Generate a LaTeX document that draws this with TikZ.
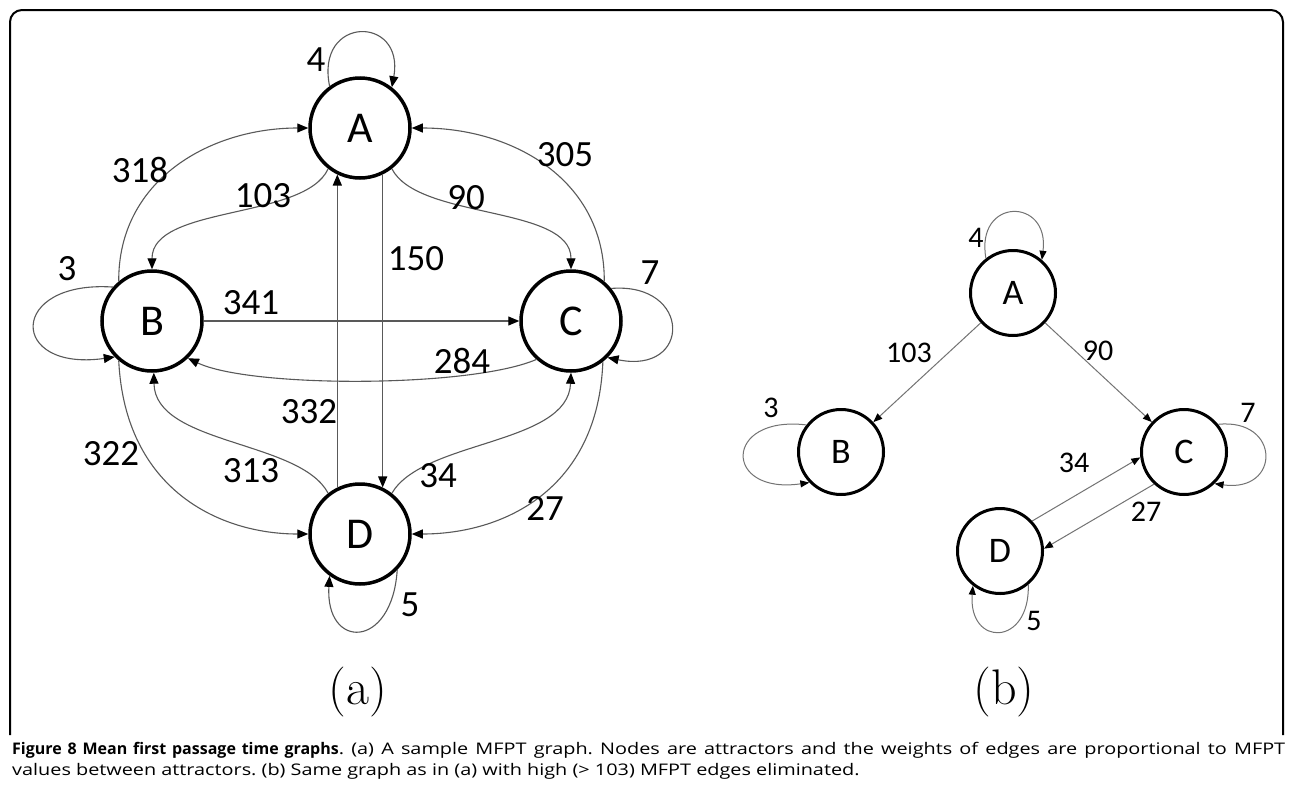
\documentclass[tikz,border=0pt]{standalone}
\usepackage{fontspec}
\newfontfamily\labfont{Carlito}
\newfontfamily\capfont[FakeStretch=1.24]{Open Sans}
\newfontfamily\capboldfont{Open Sans}
\usetikzlibrary{arrows.meta}
\begin{document}
\begin{tikzpicture}[x=1pt,y=-1pt,
  stateA/.style={circle,draw,line width=3.5pt,minimum size=100pt,inner sep=0pt,font=\labfont\fontsize{44}{44}\selectfont},
  stateB/.style={circle,draw,line width=3pt,minimum size=85pt,inner sep=0pt,font=\labfont\fontsize{36}{36}\selectfont},
  edgeA/.style={draw=black!65,line width=1.1pt,-{Triangle[length=11pt,width=9pt,color=black]}},
  edgeB/.style={draw=black!55,line width=1pt,-{Triangle[length=9pt,width=7pt,color=black]}},
  lblA/.style={font=\labfont\fontsize{37}{37}\selectfont,inner sep=0pt},
  lblB/.style={font=\labfont\fontsize{30}{30}\selectfont,inner sep=0pt},
  sub/.style={font=\fontsize{50}{60}\selectfont,inner sep=0pt},
  capline/.style={font=\capfont\fontsize{16}{20}\selectfont\frenchspacing,inner sep=0pt,anchor=base west},
]
\useasboundingbox (0,0) rectangle (1292,798);
\fill[white] (0,0) rectangle (1292,798);
% frame
\draw[line width=2pt,rounded corners=12pt] (10,735) -- (10,10) -- (1283,10) -- (1283,735);

% ---------- graph (a) ----------
\node[stateA] (A) at (360,128) {A};
\node[stateA] (B) at (152,321) {B};
\node[stateA] (C) at (571,321) {C};
\node[stateA] (D) at (360,534) {D};

\draw[edgeA] (A.126) .. controls (315,15) and (405,15) .. (A.52);
\draw[edgeA] (B.130) .. controls (118,180) and (210,128) .. (A.180);
\draw[edgeA] (C.50) .. controls (605,180) and (513,128) .. (A.0);
\draw[edgeA] (A.-128) .. controls (305,220) and (152,205) .. (B.90);
\draw[edgeA] (A.-52) .. controls (418,220) and (571,205) .. (C.90);
\draw[edgeA] (A.-64) -- (D.64);
\draw[edgeA] (D.116) -- (A.-116);
\draw[edgeA] (B.0) -- (C.180);
\draw[edgeA] (C.-132) .. controls (470,388) and (250,388) .. (B.-46);
\draw[edgeA] (B.139) .. controls (8,280) and (8,372) .. (B.-136);
\draw[edgeA] (C.39) .. controls (692,282) and (692,375) .. (C.-45);
\draw[edgeA] (B.-130) .. controls (125,490) and (220,534) .. (D.180);
\draw[edgeA] (C.-52) .. controls (598,490) and (503,534) .. (D.0);
\draw[edgeA] (D.128) .. controls (300,440) and (155,445) .. (B.-88);
\draw[edgeA] (D.52) .. controls (423,440) and (568,445) .. (C.-90);
\draw[edgeA] (D.-44) .. controls (392,650) and (325,650) .. (D.-126);

\node[lblA] (a4) at (316,60) {4};
\node[lblA] (a318) at (140,170) {318};
\node[lblA] (a103) at (263,196) {103};
\node[lblA] (a90) at (466,198) {90};
\node[lblA] (a305) at (565,155) {305};
\node[lblA] (a150) at (416,259) {150};
\node[lblA] (a3) at (67,269) {3};
\node[lblA] (a7) at (650,273) {7};
\node[lblA] (a341) at (251,303) {341};
\node[lblA] (a284) at (462,361) {284};
\node[lblA] (a332) at (309,412) {332};
\node[lblA] (a322) at (111,454) {322};
\node[lblA] (a313) at (251,471) {313};
\node[lblA] (a34) at (438,476) {34};
\node[lblA] (a27) at (545,508) {27};
\node[lblA] (a5) at (410,605) {5};
\node[sub] (subA) at (358,692) {(a)};

% ---------- graph (b) ----------
\node[stateB] (bA) at (1013,293) {A};
\node[stateB] (bB) at (841,452) {B};
\node[stateB] (bC) at (1184,452) {C};
\node[stateB] (bD) at (1000,551) {D};

\draw[edgeB] (bA.128) .. controls (975,197) and (1050,197) .. (bA.49);
\draw[edgeB] (bA) -- (bB);
\draw[edgeB] (bA) -- (bC);
\draw[edgeB] (bB.142) .. controls (723,415) and (723,495) .. (bB.-136);
\draw[edgeB] (bC.39) .. controls (1281,418) and (1281,493) .. (bC.-46);
\draw[edgeB] (bD.43) -- (bC.187);
\draw[edgeB] (bC.227) -- (bD.3);
\draw[edgeB] (bD.-50) .. controls (1030,647) and (968,647) .. (bD.-128);

\node[lblB] (b4) at (976,238) {4};
\node[lblB] (b103) at (909,353) {103};
\node[lblB] (b90) at (1098,351) {90};
\node[lblB] (b3) at (771,408) {3};
\node[lblB] (b7) at (1248,413) {7};
\node[lblB] (b34) at (1074,463) {34};
\node[lblB] (b27) at (1146,512) {27};
\node[lblB] (b5) at (1034,621) {5};
\node[sub] (subB) at (1004,692) {(b)};

% ---------- caption ----------
\node[capline] (cap1) at (12,754) {\makebox[1273pt][s]{{\capboldfont\bfseries Figure 8 Mean first passage time graphs}. (a) A sample MFPT graph. Nodes are attractors and the weights of edges are proportional to MFPT}};
\node[capline] (cap2) at (12,775) {values between attractors. (b) Same graph as in (a) with high (> 103) MFPT edges eliminated.};
\end{tikzpicture}
\end{document}
